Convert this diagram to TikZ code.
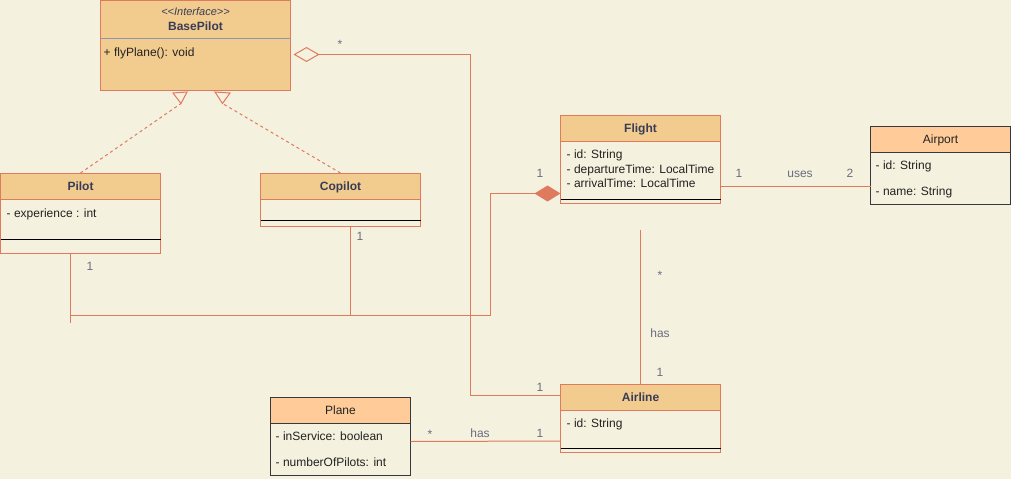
\documentclass[tikz,border=0pt]{standalone}
\usepackage{fontspec}
\setmainfont{Liberation Sans}
\usetikzlibrary{calc,arrows.meta}
\definecolor{bg}{HTML}{F4F1DE}
\definecolor{hdr}{HTML}{F2CC8F}
\definecolor{strk}{HTML}{E07A5F}
\definecolor{ttl}{HTML}{393C56}
\definecolor{hdrb}{HTML}{FFCC99}
\definecolor{strkb}{HTML}{36393D}
\definecolor{lbl}{HTML}{6B6C80}
\definecolor{sepc}{HTML}{8E97AE}
\definecolor{txt}{HTML}{222222}
\begin{document}
\begin{tikzpicture}[x=1pt,y=-1pt,
  font=\fontsize{12}{14}\selectfont,
  body/.style={draw=strk,fill=bg,line width=1pt,anchor=north west,inner sep=0pt,outer sep=0pt},
  head/.style={draw=strk,fill=hdr,line width=1pt,anchor=north west,inner sep=0pt,outer sep=0pt,minimum height=26pt,text=ttl,text height=8.6pt,text depth=0pt,font=\fontsize{12}{14}\selectfont\bfseries},
  bodyb/.style={body,draw=strkb},
  headb/.style={head,draw=strkb,fill=hdrb,text=txt,font=\fontsize{12}{14}\selectfont},
  attr/.style={anchor=west,inner sep=0pt,text=txt,text height=8.6pt,text depth=0pt},
  lab/.style={inner sep=0pt,text=lbl,text height=8.6pt,text depth=0pt},
  conn/.style={draw=strk,line width=1pt},
  real/.style={draw=strk,line width=1pt,dash pattern=on 3pt off 3pt},
  sepline/.style={draw=black,line width=1pt}]
\fill[bg] (0,0) rectangle (1011,479);
\useasboundingbox (0,0) rectangle (1011,479);

% BasePilot
\node[body,fill=hdr,minimum width=190pt,minimum height=90pt] (bp) at (100.5,0.5) {};
\draw[draw=sepc,line width=1pt] ($(bp.north west)+(0,38)$) -- ($(bp.north east)+(0,38)$);
\node[inner sep=0pt,text=ttl,text height=7.9pt,text depth=0pt] (bpst) at ($(bp.north)+(0,11)$) {\fontsize{11}{13}\selectfont\itshape \char`\<\kern0pt\char`\<\kern0pt Interface\char`\>\kern0pt\char`\>};
\node[inner sep=0pt,text=ttl,text height=8.6pt,text depth=0pt,font=\fontsize{12}{14}\selectfont\bfseries] (bpn) at ($(bp.north)+(0,25.5)$) {BasePilot};
\node[attr] (bpm) at ($(bp.north west)+(3,51.5)$) {+ flyPlane(): void};

% Pilot
\node[body,minimum width=160pt,minimum height=80pt] (pilot) at (0.5,173) {};
\node[head,minimum width=160pt] (pilotH) at (pilot.north west) {Pilot};
\node[attr] (pilotA) at ($(pilot.north west)+(6,40)$) {- experience : int};
\draw[sepline] ($(pilot.north west)+(0,66)$) -- ($(pilot.north east)+(0,66)$);

% Copilot
\node[body,minimum width=160pt,minimum height=53pt] (cop) at (260.5,173) {};
\node[head,minimum width=160pt] (copH) at (cop.north west) {Copilot};
\draw[sepline] ($(cop.north west)+(0,47)$) -- ($(cop.north east)+(0,47)$);

% Flight
\node[body,minimum width=160pt,minimum height=88pt] (fl) at (560.5,115.5) {};
\node[head,minimum width=160pt] (flH) at (fl.north west) {Flight};
\node[attr] (flA1) at ($(fl.north west)+(6,39)$) {- id: String};
\node[attr] (flA2) at ($(fl.north west)+(6,53.5)$) {- departureTime: LocalTime};
\node[attr] (flA3) at ($(fl.north west)+(6,68)$) {- arrivalTime: LocalTime};
\draw[sepline] ($(fl.north west)+(0,84)$) -- ($(fl.north east)+(0,84)$);

% Airport
\node[bodyb,minimum width=140pt,minimum height=78pt] (ap) at (870.5,126.5) {};
\node[headb,minimum width=140pt] (apH) at (ap.north west) {Airport};
\node[attr] (apA1) at ($(ap.north west)+(5,39)$) {- id: String};
\node[attr] (apA2) at ($(ap.north west)+(5,65)$) {- name: String};

% Airline
\node[body,minimum width=160pt,minimum height=68pt] (al) at (560.5,384) {};
\node[head,minimum width=160pt] (alH) at (al.north west) {Airline};
\node[attr] (alA1) at ($(al.north west)+(6,39)$) {- id: String};
\draw[sepline] ($(al.north west)+(0,64)$) -- ($(al.north east)+(0,64)$);

% Plane
\node[bodyb,minimum width=140pt,minimum height=78pt] (pl) at (270.5,397.5) {};
\node[headb,minimum width=140pt] (plH) at (pl.north west) {Plane};
\node[attr] (plA1) at ($(pl.north west)+(5,39)$) {- inService: boolean};
\node[attr] (plA2) at ($(pl.north west)+(5,65)$) {- numberOfPilots: int};

% Realizations
\coordinate (t1) at ($(bp.south west)+(80.5,13)$);
\draw[real] (pilotH.north) -- (t1);
\draw[draw=strk,line width=1pt,fill=bg,line join=miter] (t1) -- ($(bp.south west)+(72.5,2.5)$) -- ($(bp.south west)+(86.5,1.5)$) -- cycle;
\coordinate (t2) at ($(bp.south west)+(122,13)$);
\draw[real] (copH.north) -- (t2);
\draw[draw=strk,line width=1pt,fill=bg,line join=miter] (t2) -- ($(bp.south west)+(114.5,1.5)$) -- ($(bp.south west)+(129.5,2.5)$) -- cycle;

% Aggregation BasePilot - Airline
\draw[conn,{Diamond[length=26pt,width=15pt,fill=bg]}-] ($(bp.east)+(3,9)$) -| ($(al.north west)+(-90,11)$) -- ($(al.north west)+(0,11)$);
\node[lab] (l1) at (340,44) {*};
\node[lab] (l2) at (540,387) {1};

% Composition Flight - Pilot/Copilot
\draw[conn,{Diamond[length=26pt,width=16pt,fill=strk]}-] ($(fl.south west)+(0,-10)$) -- ++(-70,0) |- ($(pilot.south)+(-10,62)$);
\draw[conn] ($(pilot.south)+(-10,0)$) -- ($(pilot.south)+(-10,70)$);
\draw[conn] ($(cop.south)+(10,0)$) -- ($(cop.south)+(10,89)$);
\node[lab] (l3) at (540,173) {1};
\node[lab] (l4) at (90,266) {1};
\node[lab] (l5) at (360,236) {1};

% Flight - Airport
\draw[conn] ($(fl.east)+(0,27)$) -- ($(ap.west)+(0,21)$);
\node[lab] (l6) at (739,173) {1};
\node[lab] (l7) at (800,173) {uses};
\node[lab] (l8) at (850,173) {2};

% Flight - Airline
\coordinate (flb) at ($(fl.south)+(0,26)$);
\draw[conn] (flb) -- (alH.north);
\node[lab] (l9) at (660,275) {*};
\node[lab] (l10) at (660,333) {has};
\node[lab] (l11) at (660,372) {1};

% Plane - Airline
\draw[conn] ($(pl.east)+(0,5)$) -- ($(al.west)+(0,23)$);
\node[lab] (l12) at (430,434) {*};
\node[lab] (l13) at (480,433) {has};
\node[lab] (l14) at (540,433) {1};
\end{tikzpicture}
\end{document}
